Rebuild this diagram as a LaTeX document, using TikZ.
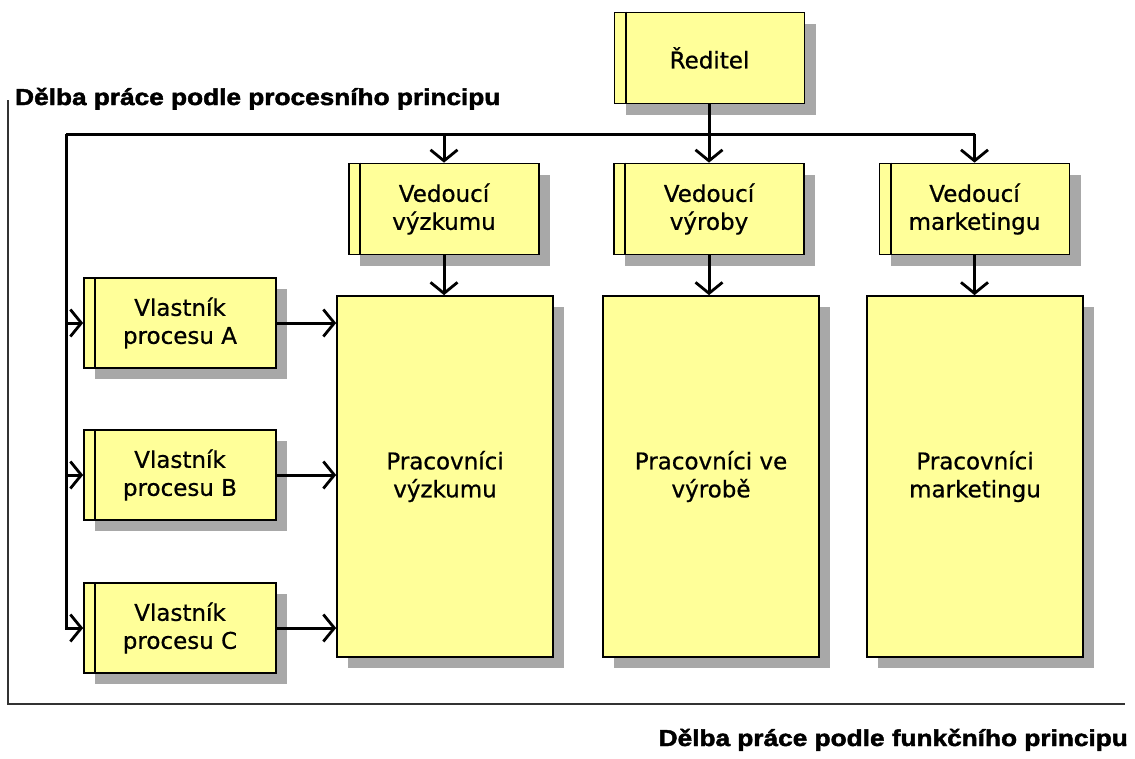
\documentclass[tikz,border=0pt]{standalone}
\usepackage{fontspec}
\setmainfont{DejaVu Sans}[FakeBold=0.7]
\newfontfamily\lblfont[FakeStretch=1.14,FakeBold=2]{Liberation Sans Bold}
\usetikzlibrary{arrows.meta,shadows}
\definecolor{boxyellow}{RGB}{255,255,153}
\definecolor{shadowgray}{RGB}{168,168,168}

\begin{document}
\begin{tikzpicture}[x=1pt,y=-1pt]
        % Define styles
        \tikzset{
            unit/.style={rectangle, draw, line width=1.7pt, fill=boxyellow, align=center,
                font=\fontsize{23}{28}\selectfont, inner sep=0pt,
                drop shadow={shadow xshift=11pt, shadow yshift=-11pt, fill=shadowgray, opacity=1}},
            head/.style={unit, minimum width=190pt, minimum height=91pt},
            staff/.style={unit, minimum width=216pt, minimum height=361pt},
            owner/.style={unit, minimum width=192pt, minimum height=90pt},
            link/.style={line width=3pt},
            arrow/.style={link, -{Straight Barb[length=11pt,width=27pt,line width=2.8pt]}},
            axis/.style={line width=1.8pt, draw=black!80},
            caption/.style={font=\lblfont\fontsize{23}{26}\selectfont, inner sep=0pt}
        }

        \useasboundingbox (0,0) rectangle (1135,758);

        % Nodes
        \node[head] (reditel) at (709.5,58) {Ředitel};
        \node[head] (ved_vyzkum) at (444,209) {Vedoucí\\výzkumu};
        \node[head] (ved_vyroba) at (709,209) {Vedoucí\\výroby};
        \node[head] (ved_marketing) at (974.5,209) {Vedoucí\\marketingu};

        \node[staff] (prac_vyzkum) at (445,476.5) {Pracovníci\\výzkumu};
        \node[staff] (prac_vyroba) at (711,476.5) {Pracovníci ve\\výrobě};
        \node[staff] (prac_marketing) at (975,476.5) {Pracovníci\\marketingu};

        \node[owner] (proc_a) at (180,323) {Vlastník\\procesu A};
        \node[owner] (proc_b) at (180,475) {Vlastník\\procesu B};
        \node[owner] (proc_c) at (180,628) {Vlastník\\procesu C};

        % second line on the left side of the boxes
        \foreach \n in {reditel, ved_vyzkum, ved_vyroba, ved_marketing, proc_a, proc_b, proc_c}
            \draw[line width=1.7pt] ([xshift=12pt]\n.north west) -- ([xshift=12pt]\n.south west);

        % Arrows
        \coordinate (bus_l) at (66,134);
        \coordinate (bus_r) at (974.5,134);
        \draw[link] (reditel.south) -- (reditel.south |- bus_l);
        \draw[link] (bus_l) -- (bus_r);
        \foreach \n in {ved_vyzkum, ved_vyroba, ved_marketing}
            \draw[arrow] (\n.north |- bus_l) -- (\n.north);
        \draw[arrow] (bus_l) |- (proc_c.west);
        \foreach \n in {proc_a, proc_b}
            \draw[arrow] (bus_l |- \n.west) -- (\n.west);

        \draw[arrow] (ved_vyzkum.south) -- (ved_vyzkum.south |- prac_vyzkum.north);
        \draw[arrow] (ved_vyroba.south) -- (ved_vyroba.south |- prac_vyroba.north);
        \draw[arrow] (ved_marketing.south) -- (ved_marketing.south |- prac_marketing.north);
        \foreach \n in {proc_a, proc_b, proc_c}
            \draw[arrow] (\n.east) -- (\n.east -| prac_vyzkum.west);

        % Axes and their captions
        \coordinate (axis_top) at (8,100);
        \coordinate (axis_corner) at (8,704);
        \coordinate (axis_end) at (1125,704);
        \draw[axis] (axis_top) -- (axis_corner) -- (axis_end);
        \node[caption, anchor=base west] (lbl_proces) at (15,105) {Dělba práce podle procesního principu};
        \node[caption, anchor=base east] (lbl_funkce) at (1128,746) {Dělba práce podle funkčního principu};
    \end{tikzpicture}
\end{document}
